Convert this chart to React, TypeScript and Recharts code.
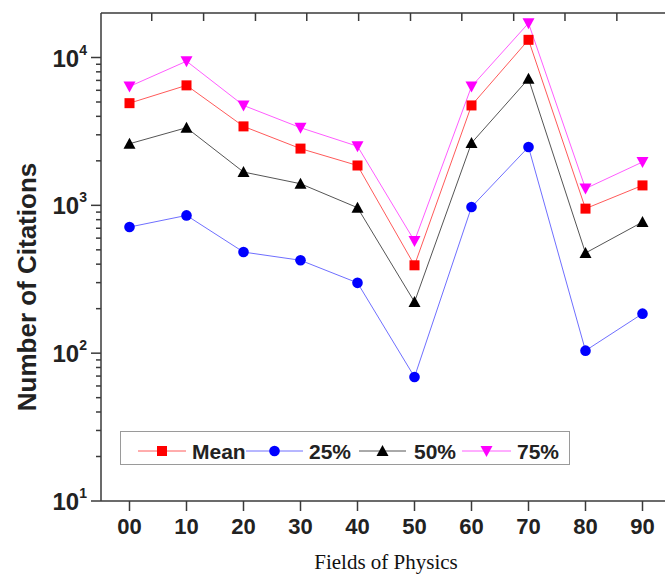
import React from 'react';
import { LineChart, Line, XAxis, YAxis, Label, ReferenceLine } from 'recharts';

const fields = ['00', '10', '20', '30', '40', '50', '60', '70', '80', '90'];
const fieldCodes = [0, 10, 20, 30, 40, 50, 60, 70, 80, 90];

const meanValues = [4910, 6480, 3420, 2420, 1860, 393, 4740, 13170, 950, 1364];
const p25Values = [713, 855, 483, 425, 299, 69, 974, 2480, 104, 185];
const p50Values = [2610, 3350, 1680, 1400, 964, 222, 2640, 7180, 476, 771];
const p75Values = [6370, 9440, 4740, 3350, 2510, 574, 6370, 17070, 1298, 1964];

const yTicks = [
  10, 20, 30, 40, 50, 60, 70, 80, 90,
  100, 200, 300, 400, 500, 600, 700, 800, 900,
  1000, 2000, 3000, 4000, 5000, 6000, 7000, 8000, 9000,
  10000,
];
const Y_MIN = 10;
const Y_MAX = 20000;
const X_MIN = -5;
const X_MAX = 95;
// unlabeled ticks hanging from the top frame line
const topTicks = [3.9, 13, 22.1, 31.1, 40.2, 49.3, 58.3, 67.4, 76.4, 85.5];

const data = fieldCodes.map((code, i) => ({
  code,
  field: fields[i],
  mean: meanValues[i],
  p25: p25Values[i],
  p50: p50Values[i],
  p75: p75Values[i],
}));

type Shape = 'square' | 'circle' | 'up' | 'down';

const series: { key: string; name: string; line: string; fill: string; shape: Shape }[] = [
  { key: 'mean', name: 'Mean', line: '#ff5a5a', fill: '#ff0000', shape: 'square' },
  { key: 'p25', name: '25%', line: '#6f6fff', fill: '#0000ff', shape: 'circle' },
  { key: 'p50', name: '50%', line: '#555555', fill: '#000000', shape: 'up' },
  { key: 'p75', name: '75%', line: '#ff5cff', fill: '#ff00ff', shape: 'down' },
];

const AXIS = '#3a3a3a';
const SANS = '"Liberation Sans", Arial, sans-serif';

// chart geometry
const CHART_W = 690;
const MARGIN = { top: 13, right: 19, bottom: 0, left: 0 };
const Y_AXIS_W = 101;
const PLOT_LEFT = MARGIN.left + Y_AXIS_W;
const PLOT_W = CHART_W - MARGIN.right - PLOT_LEFT;

const Marker = ({ cx, cy, shape, fill }: { cx: number; cy: number; shape: Shape; fill: string }) => {
  if (cx == null || cy == null) return null;
  if (shape === 'square') return <rect x={cx - 5} y={cy - 5} width={10} height={10} fill={fill} />;
  if (shape === 'circle') return <circle cx={cx} cy={cy} r={5.3} fill={fill} />;
  if (shape === 'up')
    return <polygon points={`${cx - 6},${cy + 5} ${cx + 6},${cy + 5} ${cx},${cy - 6}`} fill={fill} />;
  return <polygon points={`${cx - 6},${cy - 5} ${cx + 6},${cy - 5} ${cx},${cy + 6}`} fill={fill} />;
};

const YTick = (props: any) => {
  const { x, y, payload } = props;
  const v = payload.value;
  const exp = Math.round(Math.log10(v));
  const major = Math.abs(Math.log10(v) - exp) < 1e-9;
  return (
    <g>
      <line x1={x} x2={x - (major ? 10 : 5)} y1={y} y2={y} stroke={AXIS} strokeWidth={1.5} />
      {major && (
        <text x={x - 14} y={y + 9} textAnchor="end" fontFamily={SANS} fontWeight="bold" fontSize={24} fill="#222">
          10
          <tspan dy={-12} fontSize={14}>{exp}</tspan>
        </text>
      )}
    </g>
  );
};

const TopTicks = () => (
  <svg width={665} height={30} style={{ position: 'absolute', left: 0, top: 0, pointerEvents: 'none' }}>
    {topTicks.map((t) => {
      const x = PLOT_LEFT + ((t - X_MIN) / (X_MAX - X_MIN)) * PLOT_W;
      return <line key={t} x1={x} x2={x} y1={MARGIN.top} y2={MARGIN.top + 8} stroke={AXIS} strokeWidth={1.5} />;
    })}
  </svg>
);

const LegendBox = () => {
  const items = [
    { lx: 18, tx: 72 },
    { lx: 126, tx: 189 },
    { lx: 239, tx: 294 },
    { lx: 342, tx: 397 },
  ];
  const widths = [48, 57, 47, 49];
  return (
    <svg width={450} height={34} style={{ position: 'absolute', left: 120, top: 431 }}>
      <rect x={0.5} y={0.5} width={449} height={33} fill="#fff" stroke="#9a9a9a" strokeWidth={1} />
      {series.map((s, i) => (
        <g key={s.key}>
          <line x1={items[i].lx} x2={items[i].lx + widths[i]} y1={20} y2={20} stroke={s.line} strokeWidth={1} />
          <Marker cx={items[i].lx + widths[i] / 2} cy={20} shape={s.shape} fill={s.fill} />
          <text x={items[i].tx} y={28} fontFamily={SANS} fontWeight="bold" fontSize={21} fill="#222">
            {s.name}
          </text>
        </g>
      ))}
    </svg>
  );
};

export default function App() {
  return (
    <div style={{ position: 'absolute', left: 0, top: 0, width: 665, height: 575, overflow: 'hidden', background: '#fff' }}>
      <LineChart width={CHART_W} height={575} data={data} margin={MARGIN}>
        <XAxis
          dataKey="code"
          type="number"
          domain={[X_MIN, X_MAX]}
          ticks={fieldCodes}
          interval={0}
          tickFormatter={(v: number) => fields[fieldCodes.indexOf(v)]}
          height={74}
          tickSize={10}
          tickMargin={7}
          stroke={AXIS}
          strokeWidth={1.5}
          tick={{ fill: '#222', fontSize: 22, fontWeight: 'bold', fontFamily: SANS }}
        >
          <Label
            value="Fields of Physics"
            position="insideBottom"
            offset={6}
            style={{ fontFamily: '"Liberation Serif", "Times New Roman", serif', fontSize: 21, fill: '#111' }}
          />
        </XAxis>
        <YAxis
          scale="log"
          domain={[Y_MIN, Y_MAX]}
          allowDataOverflow
          ticks={yTicks}
          interval={0}
          width={Y_AXIS_W}
          tickSize={0}
          tickMargin={0}
          tickLine={false}
          stroke={AXIS}
          strokeWidth={1.5}
          tick={<YTick />}
        >
          <Label
            content={(p: any) => {
              const vb = p.viewBox || { y: 13, height: 488 };
              const cy = vb.y + vb.height / 2 + 30;
              return (
                <text
                  x={27}
                  y={cy}
                  transform={`rotate(-90, 27, ${cy})`}
                  textAnchor="middle"
                  dominantBaseline="central"
                  fontFamily={SANS}
                  fontWeight="bold"
                  fontSize={26}
                  fill="#222"
                >
                  Number of Citations
                </text>
              );
            }}
          />
        </YAxis>
        <ReferenceLine y={Y_MAX} stroke={AXIS} strokeWidth={1.5} ifOverflow="visible" />
        {series.map((s) => (
          <Line
            key={s.key}
            type="linear"
            dataKey={s.key}
            name={s.name}
            stroke={s.line}
            strokeWidth={1}
            isAnimationActive={false}
            dot={(p: any) => <Marker key={`${s.key}-${p.index}`} cx={p.cx} cy={p.cy} shape={s.shape} fill={s.fill} />}
            activeDot={false}
          />
        ))}
      </LineChart>
      <TopTicks />
      <LegendBox />
    </div>
  );
}
